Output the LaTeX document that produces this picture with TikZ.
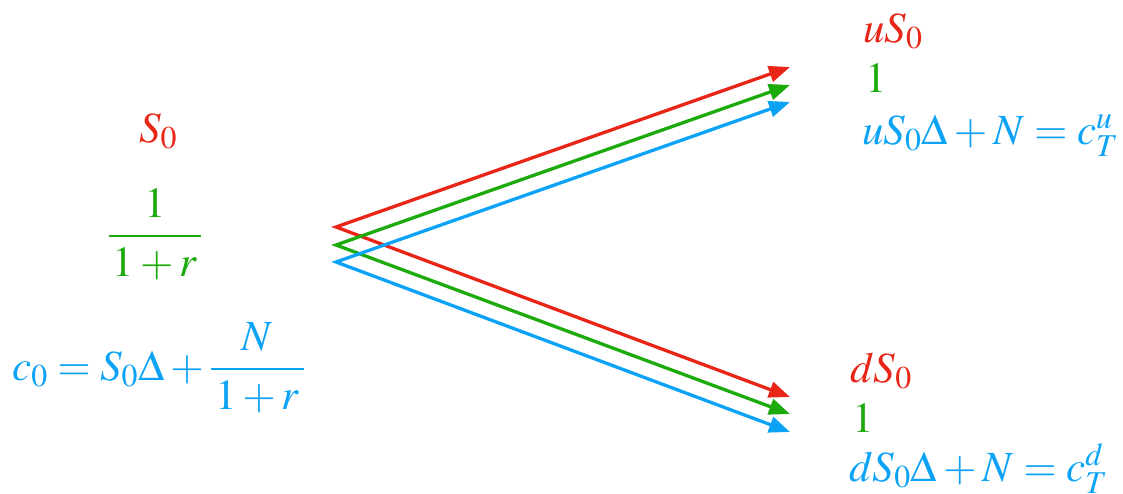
\documentclass[tikz,border=0pt]{standalone}
\usepackage{amsmath}
\usepackage{mathptmx}
\usetikzlibrary{arrows.meta}
\definecolor{cred}{RGB}{232,37,22}
\definecolor{cgreen}{RGB}{28,170,12}
\definecolor{cblue}{RGB}{12,163,246}
\tikzset{
  lbl/.style={inner sep=0pt, font=\fontsize{43}{50}\selectfont},
  branch/.style={line width=3.3pt, {Triangle[length=21pt,width=16pt]}-{Triangle[length=21pt,width=16pt]}}
}
\newcommand{\padden}[1]{\kern4pt#1\kern4pt}
\begin{document}
\begin{tikzpicture}[x=1pt,y=-1pt]
\useasboundingbox (0,0) rectangle (1123,493);
% start and tip coordinates
\coordinate (rs) at (336,227);
\coordinate (gs) at (336,245);
\coordinate (bs) at (336,262);
\coordinate (ru) at (790,67);
\coordinate (gu) at (790,85);
\coordinate (bu) at (790,102);
\coordinate (rd) at (790,397);
\coordinate (gd) at (790,414);
\coordinate (bd) at (790,432);
\draw[branch, cred] (ru) -- (rs) -- (rd);
\draw[branch, cgreen] (gu) -- (gs) -- (gd);
\draw[branch, cblue] (bu) -- (bs) -- (bd);
% left labels
\node[lbl, text=cred, anchor=base] (s0) at (158,142) {$S_0$};
\node[lbl, text=cgreen, anchor=base] (bond) at (155,247) {$\dfrac{1}{\padden{1+r}}$};
\node[lbl, text=cblue, anchor=base west] (c0) at (12,380) {$c_0=S_0\Delta+\dfrac{N}{\padden{1+r}}$};
% up state
\node[lbl, text=cred, anchor=base west] (us) at (863,42) {$uS_0$};
\node[lbl, text=cgreen, anchor=base west] (uone) at (865,92) {$1$};
\node[lbl, text=cblue, anchor=base west] (uc) at (862,144) {$uS_0\Delta+N=c_T^u$};
% down state
\node[lbl, text=cred, anchor=base west] (ds) at (850,382) {$dS_0$};
\node[lbl, text=cgreen, anchor=base west] (done) at (852,432) {$1$};
\node[lbl, text=cblue, anchor=base west] (dc) at (849,481) {$dS_0\Delta+N=c_T^d$};
\end{tikzpicture}
\end{document}
